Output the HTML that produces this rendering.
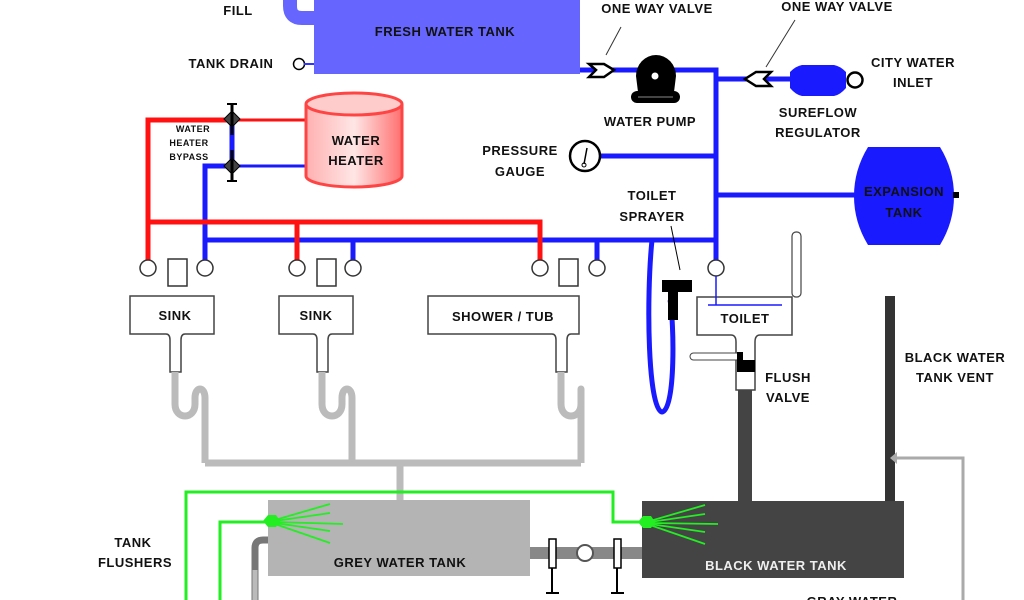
<!DOCTYPE html>
<html><head><meta charset="utf-8"><style>
html,body{margin:0;padding:0;background:#fff;}
svg{display:block;}
text{font-family:"Liberation Sans",Arial,sans-serif;font-weight:bold;fill:#111;text-anchor:middle;letter-spacing:0.5px;}
</style></head><body>
<svg width="1024" height="600" viewBox="0 0 1024 600" xmlns="http://www.w3.org/2000/svg">
<!-- fill pipe -->
<path d="M290 0 V6 Q290 18 302 18 H316" stroke="#6666ff" stroke-width="14" fill="none"/>
<text x="238" y="15" font-size="13">FILL</text>
<!-- fresh water tank -->
<rect x="314" y="0" width="266" height="74" fill="#6666ff"/>
<text x="445" y="36" font-size="13">FRESH WATER TANK</text>
<text x="231" y="68" font-size="13">TANK DRAIN</text>
<circle cx="299" cy="64" r="5.5" fill="#fff" stroke="#000" stroke-width="1.5"/>
<line x1="304" y1="64" x2="314" y2="64" stroke="#3333ff" stroke-width="2"/>

<!-- blue supply -->
<g stroke="#1a1aff" fill="none" stroke-width="5">
<path d="M580 70 H716 V262"/>
<path d="M716 79 H790"/>
<path d="M600 156 H716"/>
<path d="M716 195 H858"/>
<path d="M205 262 V240 H716"/>
<path d="M353 240 V262"/><path d="M597 240 V262"/>
<path d="M205 240 V166 H232"/>
<path d="M232 120 V166"/>
</g>
<line x1="232" y1="166" x2="306" y2="166" stroke="#1a1aff" stroke-width="3"/>
<!-- red -->
<g stroke="#ff1111" fill="none" stroke-width="5">
<path d="M148 262 V120 H232"/>
<path d="M148 222 H540 V262"/>
<path d="M297 222 V262"/>
</g>
<line x1="232" y1="120" x2="306" y2="120" stroke="#ff1111" stroke-width="3"/>
<!-- bypass valves -->
<g fill="#444" stroke="#000" stroke-width="1">
<path d="M224 119 L232 111 L240 119 L232 127 Z"/><line x1="232" y1="103" x2="232" y2="135" stroke-width="3"/><line x1="227" y1="104" x2="237" y2="104" stroke-width="2"/>
<path d="M224 166 L232 158 L240 166 L232 174 Z"/><line x1="232" y1="150" x2="232" y2="182" stroke-width="3"/><line x1="227" y1="181" x2="237" y2="181" stroke-width="2"/>
</g>
<text x="193" y="132" font-size="9">WATER</text>
<text x="189" y="146" font-size="9">HEATER</text>
<text x="189" y="160" font-size="9">BYPASS</text>
<!-- water heater -->
<defs><linearGradient id="wh" x1="0" x2="1"><stop offset="0" stop-color="#ffb0b0"/><stop offset="0.5" stop-color="#ffe6e6"/><stop offset="1" stop-color="#ff7070"/></linearGradient></defs>
<path d="M306 104 V176 A48 11 0 0 0 402 176 V104" fill="url(#wh)" stroke="#ff4444" stroke-width="3"/>
<ellipse cx="354" cy="104" rx="48" ry="11" fill="#ffcccc" stroke="#ff4444" stroke-width="3"/>
<text x="356" y="145" font-size="13">WATER</text>
<text x="356" y="165" font-size="13">HEATER</text>

<!-- check valves -->
<g fill="#fff" stroke="#000" stroke-width="2.5">
<path d="M589 64 H604 L614 70 L604 77 H589 L596 70 Z"/>
<path d="M771 72 H756 L745 79 L756 86 H771 L764 79 Z"/>
</g>
<line x1="621" y1="27" x2="606" y2="55" stroke="#333" stroke-width="1"/>
<line x1="795" y1="20" x2="766" y2="67" stroke="#333" stroke-width="1"/>
<text x="657" y="13" font-size="13">ONE WAY VALVE</text>
<text x="837" y="11" font-size="13">ONE WAY VALVE</text>
<!-- pump -->
<path d="M636 76 A20 21 0 1 1 676 76 L674 92 H638 Z" fill="#000"/>
<rect x="631" y="91" width="49" height="12" rx="6" fill="#000"/>
<circle cx="655" cy="76" r="3.5" fill="#fff"/>
<line x1="638" y1="97" x2="673" y2="97" stroke="#888" stroke-width="1"/>
<text x="650" y="126" font-size="13">WATER PUMP</text>
<!-- regulator -->
<path d="M790 72 Q796 66 802 65 H834 Q840 66 846 72 V88 Q840 95 834 96 H802 Q796 95 790 88 Z" fill="#1a1aff"/>
<circle cx="855" cy="80" r="7.5" fill="#fff" stroke="#000" stroke-width="2.5"/>
<text x="913" y="67" font-size="13">CITY WATER</text>
<text x="913" y="87" font-size="13">INLET</text>
<text x="818" y="117" font-size="13">SUREFLOW</text>
<text x="818" y="137" font-size="13">REGULATOR</text>
<!-- gauge -->
<circle cx="585" cy="156" r="15" fill="#fff" stroke="#000" stroke-width="2.5"/>
<line x1="587" y1="148" x2="584" y2="164" stroke="#000" stroke-width="1.5"/>
<circle cx="584" cy="165" r="2" fill="none" stroke="#000"/>
<text x="520" y="155" font-size="13">PRESSURE</text>
<text x="520" y="176" font-size="13">GAUGE</text>
<!-- expansion tank -->
<path d="M868 147 H940 Q954 170 954 196 Q954 222 940 245 H868 Q854 222 854 196 Q854 170 868 147 Z" fill="#1a1aff"/>
<rect x="953" y="192" width="6" height="6" fill="#000"/>
<text x="904" y="196" font-size="13">EXPANSION</text>
<text x="904" y="217" font-size="13">TANK</text>
<text x="652" y="200" font-size="13">TOILET</text>
<text x="652" y="221" font-size="13">SPRAYER</text>
<line x1="671" y1="226" x2="680" y2="270" stroke="#000" stroke-width="1"/>

<!-- fixtures valves -->
<g fill="#fff" stroke="#333" stroke-width="1.5">
<circle cx="148" cy="268" r="8"/><circle cx="205" cy="268" r="8"/>
<circle cx="297" cy="268" r="8"/><circle cx="353" cy="268" r="8"/>
<circle cx="540" cy="268" r="8"/><circle cx="597" cy="268" r="8"/>
<circle cx="716" cy="268" r="8"/>
<rect x="168" y="259" width="19" height="27"/><rect x="317" y="259" width="19" height="27"/><rect x="559" y="259" width="19" height="27"/>
</g>
<!-- sink boxes -->
<g fill="#fff" stroke="#444" stroke-width="1.5">
<path d="M130 296 H214 V334 H185 Q181 334 181 340 V372 H170 V340 Q170 334 166 334 H130 Z"/>
<path d="M279 296 H353 V334 H332 Q328 334 328 340 V372 H317 V340 Q317 334 313 334 H279 Z"/>
<path d="M428 296 H579 V334 H571 Q567 334 567 340 V372 H556 V340 Q556 334 552 334 H428 Z"/>
</g>
<text x="175" y="320" font-size="13">SINK</text>
<text x="316" y="320" font-size="13">SINK</text>
<text x="503" y="321" font-size="13">SHOWER / TUB</text>
<!-- drains -->
<g stroke="#bbbbbb" stroke-width="7" fill="none">
<path d="M175 372 V404 C175 420 195 420 195 404 V398 C195 386 205 386 205 398 V463"/>
<path d="M322 372 V404 C322 420 342 420 342 404 V398 C342 386 352 386 352 398 V463"/>
<path d="M561 372 V404 C561 420 581 420 581 404 V398 C581 386 581 386 581 398 V463"/>
<path d="M205 463 H581"/>
<path d="M400 463 V502"/>
</g>
<!-- toilet -->
<rect x="792" y="232" width="9" height="65" rx="4" fill="#fff" stroke="#444" stroke-width="1.2"/>
<path d="M697 297 H792 V335 H760 Q755 335 755 342 V390 H736 V342 Q736 335 731 335 H697 Z" fill="#fff" stroke="#444" stroke-width="1.5"/>
<line x1="716" y1="276" x2="716" y2="305" stroke="#1a1aff" stroke-width="1.5"/>
<line x1="708" y1="305" x2="782" y2="305" stroke="#1a1aff" stroke-width="1.5"/>
<text x="745" y="323" font-size="13">TOILET</text>
<rect x="690" y="353" width="50" height="7" rx="3.5" fill="#fff" stroke="#444"/>
<path d="M737 352 H743 V360 H755 V372 H737 Z" fill="#000"/>
<rect x="738" y="390" width="14" height="112" fill="#444"/>
<text x="788" y="382" font-size="13">FLUSH</text>
<text x="788" y="402" font-size="13">VALVE</text>
<!-- sprayer hose -->
<path d="M652 240 C646 300 648 410 662 412 C676 410 674 320 670 300" stroke="#1a1aff" stroke-width="5" fill="none"/>
<path d="M662 280 H692 V292 H678 V320 H668 V292 H662 Z" fill="#000"/>
<!-- vent -->
<rect x="885" y="296" width="10" height="210" fill="#333"/>
<path d="M963 600 V458 H896" stroke="#aaaaaa" stroke-width="3" fill="none"/>
<path d="M890 458 L897 452 V464 Z" fill="#aaa"/>
<text x="955" y="362" font-size="13">BLACK WATER</text>
<text x="955" y="382" font-size="13">TANK VENT</text>
<!-- tanks -->
<rect x="268" y="500" width="262" height="76" fill="#b4b4b4"/>
<text x="400" y="567" font-size="13">GREY WATER TANK</text>
<rect x="642" y="501" width="262" height="77" fill="#444"/>
<text x="776" y="570" font-size="13" style="fill:#eee">BLACK WATER TANK</text>
<!-- connector -->
<rect x="530" y="547" width="112" height="12" fill="#888"/>
<circle cx="585" cy="553" r="8" fill="#fff" stroke="#555" stroke-width="2"/>
<g fill="#fff" stroke="#000" stroke-width="1.5">
<rect x="549" y="539" width="7" height="29"/><rect x="614" y="539" width="7" height="29"/>
</g>
<g stroke="#000" stroke-width="2">
<line x1="552" y1="568" x2="552" y2="593"/><line x1="546" y1="593" x2="559" y2="593"/>
<line x1="617" y1="568" x2="617" y2="593"/><line x1="611" y1="593" x2="624" y2="593"/>
</g>
<path d="M255 600 V548 Q255 540 263 540 H268" stroke="#777" stroke-width="7" fill="none"/>
<line x1="255" y1="570" x2="255" y2="600" stroke="#bbb" stroke-width="5"/>
<!-- flushers -->
<g stroke="#22ee22" stroke-width="3" fill="none">
<path d="M186 600 V492 H613 V522 H640"/>
<path d="M220 600 V522 H265"/>
</g>
<g stroke="#22ee22" stroke-width="1.8">
<line x1="275" y1="520" x2="330" y2="504"/><line x1="275" y1="521" x2="330" y2="513"/><line x1="275" y1="522" x2="343" y2="524"/><line x1="275" y1="523" x2="330" y2="531"/><line x1="275" y1="524" x2="330" y2="543"/>
<line x1="650" y1="521" x2="705" y2="505"/><line x1="650" y1="522" x2="705" y2="514"/><line x1="650" y1="523" x2="718" y2="524"/><line x1="650" y1="524" x2="705" y2="532"/><line x1="650" y1="525" x2="705" y2="544"/>
</g>
<path d="M263 521 L268 515 H276 L280 521 L276 527 H268 Z" fill="#22ee22"/>
<path d="M638 522 L643 516 H651 L655 522 L651 528 H643 Z" fill="#22ee22"/>
<text x="133" y="547" font-size="13">TANK</text>
<text x="135" y="567" font-size="13">FLUSHERS</text>
<text x="852" y="606" font-size="13">GRAY WATER</text>
</svg>
</body></html>
